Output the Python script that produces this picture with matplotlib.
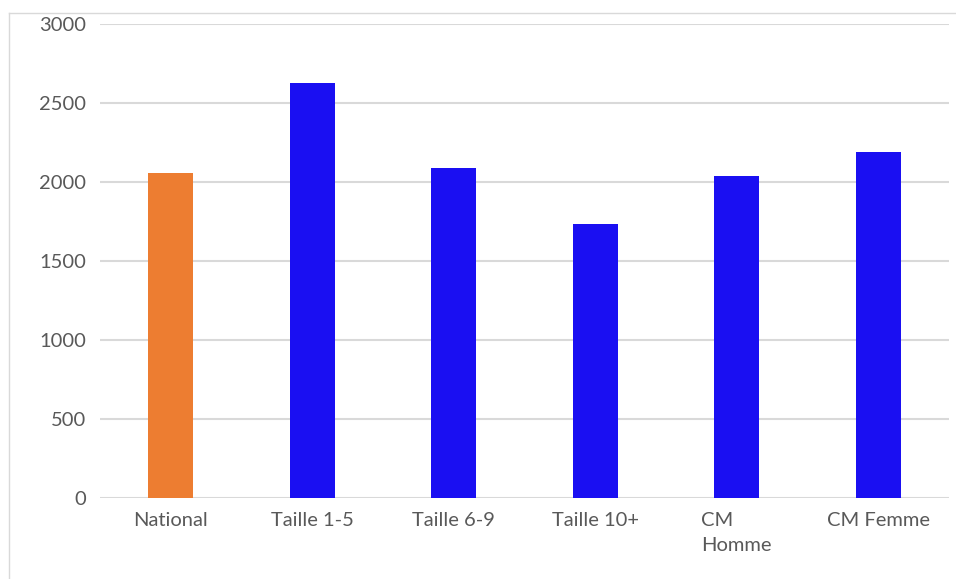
import numpy as np
import matplotlib
matplotlib.use("Agg")
import matplotlib.pyplot as plt
from matplotlib.lines import Line2D

categories = ["National", "Taille 1-5", "Taille 6-9", "Taille 10+", "CM\nHomme", "CM Femme"]
values = [2060, 2625, 2090, 1735, 2040, 2190]
bar_colors = ["#ed7d31", "#1a0ff2", "#1a0ff2", "#1a0ff2", "#1a0ff2", "#1a0ff2"]
yticks = [0, 500, 1000, 1500, 2000, 2500, 3000]

plt.rcParams['font.family'] = ['Lato', 'DejaVu Sans']

fig = plt.figure(figsize=(9.56, 5.79), dpi=100)
ax = fig.add_axes([100/956, 81/579, 849/956, 474/579])

x = np.arange(len(categories))
ax.bar(x, values, width=0.32, color=bar_colors, zorder=3)

ax.set_xlim(-0.5, len(categories) - 0.5)
ax.set_ylim(0, 3000)
ax.set_yticks(yticks)
ax.set_yticklabels([str(v) for v in yticks])
ax.set_xticks(x)
ax.set_xticklabels(categories, multialignment='left', linespacing=1.6)
ax.grid(axis='y', color='#d9d9d9', linewidth=1.5, zorder=0)
for s in ax.spines.values():
    s.set_visible(False)
ax.tick_params(axis='both', length=0, labelsize=14.5, labelcolor='#595959')
ax.tick_params(axis='y', pad=10)
ax.tick_params(axis='x', pad=10)

# outer chart border
fig.add_artist(Line2D([9/956, 1], [1 - 13/579, 1 - 13/579], color='#d9d9d9', linewidth=1))
fig.add_artist(Line2D([9/956, 9/956], [0, 1 - 13/579], color='#d9d9d9', linewidth=1))

fig.savefig("out.png", dpi=100)
